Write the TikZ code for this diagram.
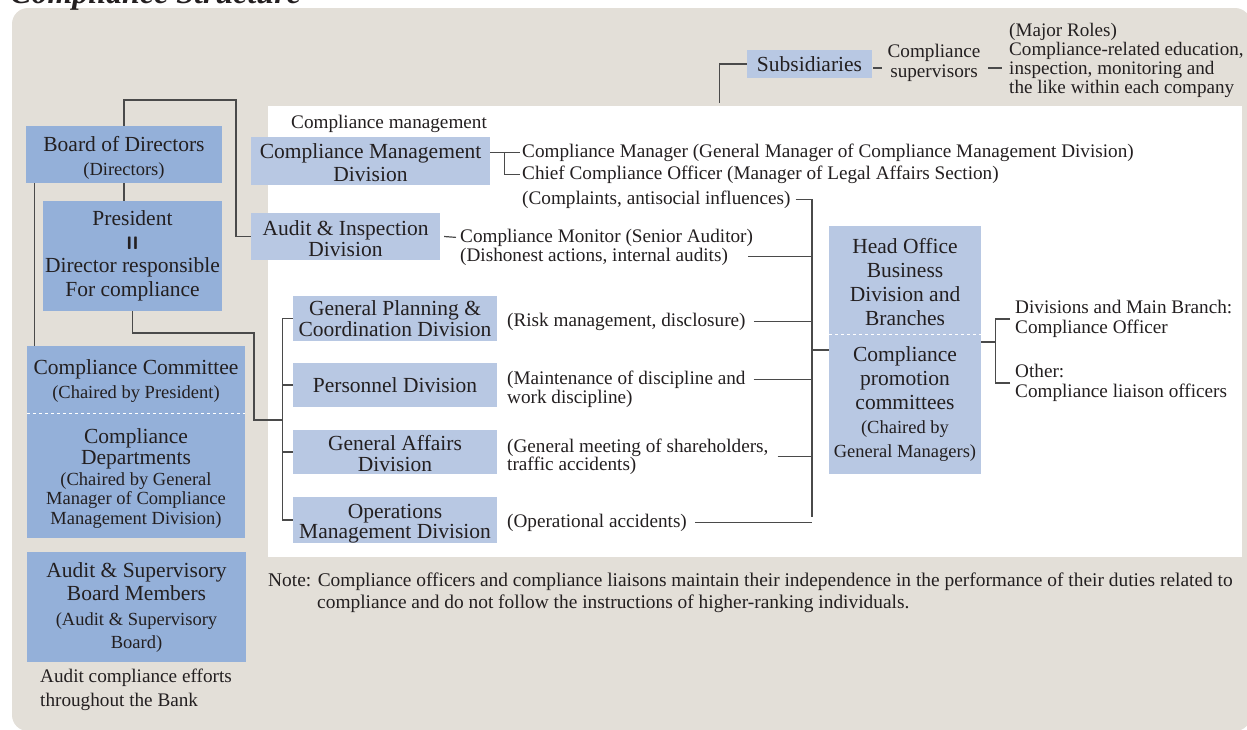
\documentclass[tikz,border=0pt]{standalone}
\usepackage{fontspec}
\setmainfont{Liberation Serif}
\usetikzlibrary{calc}

\definecolor{bgbeige}{HTML}{E3DFD8}
\definecolor{darkbox}{HTML}{94B0D9}
\definecolor{lightbox}{HTML}{B8C8E3}
\definecolor{ink}{HTML}{231F20}
\definecolor{linegray}{HTML}{4A4A4A}

\newcommand{\cfBig}{\fontsize{21.5}{23}\selectfont}
\newcommand{\cfSmall}{\fontsize{18.5}{20}\selectfont}
\newcommand{\cfNorm}{\fontsize{19.2}{20}\selectfont}
\newcommand{\cfStrut}[1]{\rule{0pt}{#1}}
\newcommand{\cfBars}{{\fontsize{18}{18}\sffamily\bfseries I\kern0.3pt I}}

\begin{document}
\begin{tikzpicture}[x=1pt, y=-1pt, text=ink,
    dbox/.style={fill=darkbox, inner sep=0pt, align=center, font=\cfBig},
    lbox/.style={fill=lightbox, inner sep=0pt, align=center, font=\cfBig},
    lbl/.style={anchor=base west, inner sep=0pt, font=\cfNorm},
    blk/.style={inner sep=0pt, align=left, font=\cfNorm},
    wire/.style={draw=linegray, line width=1.2pt},
    sep/.style={draw=white, line width=0.8pt, dash pattern=on 3pt off 3pt}]

    \useasboundingbox (0,0) rectangle (1247,729);

    \fill [bgbeige, rounded corners=16pt] (12,8) rectangle (1251,731);
    \fill [white] (268,106) rectangle (1242,557);

    \node [anchor=base west, inner sep=0pt, font=\fontsize{32}{32}\selectfont\bfseries\itshape] (title) at (10,3) {Compliance Structure};

    % left column
    \node [dbox, minimum width=196pt, minimum height=57pt] (board) at (124,154.5) {\cfStrut{22pt}Board of Directors\\[1pt]{\cfSmall (Directors)}};
    \node [dbox, minimum width=179pt, minimum height=110pt] (pres) at (132.5,256) {President\\[0.5pt]\cfBars\\[0.5pt]Director responsible\\[0.5pt]For compliance};
    \node [dbox, minimum width=218pt, minimum height=67pt] (comm) at (136,379.5) {\cfStrut{18pt}Compliance Committee\\[1pt]{\cfSmall (Chaired by President)}};
    \node [dbox, minimum width=218pt, minimum height=125pt] (dept) at (136,475.5) {\cfStrut{21pt}Compliance\\[-2pt]Departments\\[-2pt]{\cfSmall (Chaired by General}\\[-3.5pt]{\cfSmall Manager of Compliance}\\[-3pt]{\cfSmall Management Division)}};
    \draw [sep] (comm.south west) -- (comm.south east);
    \node [dbox, minimum width=219pt, minimum height=110pt] (audsup) at (136.5,607) {Audit \& Supervisory\\Board Members\\[2pt]{\cfSmall (Audit \& Supervisory}\\[0pt]{\cfSmall Board)}};
    \node [blk, anchor=north west, font=\fontsize{19.2}{23.5}\selectfont] (auditnote) at (40,669) {Audit compliance efforts\\throughout the Bank};

    % subsidiaries
    \node [lbox, minimum width=125pt, minimum height=28pt] (subs) at (809.5,64) {Subsidiaries};
    \node [inner sep=0pt, align=center, font=\fontsize{19.2}{20}\selectfont] (super) at (934,62.5) {Compliance\\supervisors};
    \node [blk, anchor=north west, font=\fontsize{19.1}{19}\selectfont] (roles) at (1009,23) {(Major Roles)\\Compliance-related education,\\inspection, monitoring and\\the like within each company};
    \draw [wire] (subs.west) -- ++(-27,0) -- ++(0,39);
    \draw [wire] ([xshift=1pt]subs.east |- 0,68) -- (882,68);
    \draw [wire] (988,68) -- (1002,68);

    % compliance management
    \node [lbl] (cmlabel) at (291,128) {Compliance management};
    \node [lbox, minimum width=239pt, minimum height=48pt] (cmd) at (370.5,161) {\cfStrut{19pt}Compliance Management\\Division};
    \node [lbl] (mgr) at (522,157) {Compliance Manager (General Manager of Compliance Management Division)};
    \node [lbl] (cco) at (522,179) {Chief Compliance Officer (Manager of Legal Affairs Section)};
    \node [lbl] (compl) at (522,204) {(Complaints, antisocial influences)};
    \draw [wire] (cmd.east |- mgr.west) -- ([xshift=-2pt]mgr.west);
    \draw [wire] ($(cmd.east |- mgr.west)+(14,0)$) |- ([xshift=-2pt]cco.west);

    \node [lbox, minimum width=189pt, minimum height=47pt] (aid) at (345.5,236.5) {\cfStrut{19pt}Audit \& Inspection\\[-2pt]Division};
    \node [lbl] (monitor) at (460,242) {Compliance Monitor (Senior Auditor)};
    \node [lbl] (dish) at (460,261) {(Dishonest actions, internal audits)};
    \draw [wire] ([xshift=4pt]aid.east) -- ([xshift=-4pt]monitor.west);
    \draw [wire] (board.north) |- (236,100) |- (aid.west);
    \draw [wire] (board.south) -- (board.south |- pres.north);
    \coordinate (bl) at ([xshift=9pt]board.south west);
    \draw [wire] (bl) -- (bl |- comm.north);

    % divisions
    \node [lbox, minimum width=204pt, minimum height=45pt] (gp) at (395,318.5) {General Planning \&\\[-2pt]Coordination Division};
    \node [lbox, minimum width=204pt, minimum height=44pt] (pers) at (395,385) {Personnel Division};
    \node [lbox, minimum width=204pt, minimum height=44pt] (ga) at (395,452) {\cfStrut{19pt}General Affairs\\[-2pt]Division};
    \node [lbox, minimum width=204pt, minimum height=44pt] (ops) at (395,520) {\cfStrut{21pt}Operations\\[-3pt]Management Division};
    \draw [wire] (gp.west) -- ++(-10,0) |- (ops.west);
    \draw [wire] (pers.west) -- ++(-10,0);
    \draw [wire] (ga.west) -- ++(-10,0);
    \draw [wire] (pres.south) |- (254,333) |- (283,420);

    \node [lbl] (risk) at (507,326) {(Risk management, disclosure)};
    \node [lbl] (maint) at (507,384) {(Maintenance of discipline and};
    \node [lbl] (maint2) at (507,403) {work discipline)};
    \node [lbl] (agm) at (507,452) {(General meeting of shareholders,};
    \node [lbl] (agm2) at (507,470) {traffic accidents)};
    \node [lbl] (opacc) at (507,527) {(Operational accidents)};

    % head office
    \node [lbox, minimum width=152pt, minimum height=108pt] (hoff) at (905,280) {\cfStrut{19pt}Head Office\\[1pt]Business\\[1pt]Division and\\[1pt]Branches};
    \node [lbox, minimum width=152pt, minimum height=140pt] (promo) at (905,404) {Compliance\\[1pt]promotion\\[1pt]committees\\[1pt]{\cfSmall (Chaired by}\\[1pt]{\cfSmall General Managers)}};
    \draw [sep] (hoff.south west) -- (hoff.south east);

    \coordinate (rbus) at (812,517);
    \draw [wire] ([xshift=5pt]compl.east) -| (rbus);
    \draw [wire] ([xshift=20pt]dish.east) -- (rbus |- dish.east);
    \draw [wire] ([xshift=8pt]risk.east) -- (rbus |- risk.east);
    \draw [wire] ([xshift=8pt]maint.east) -- (rbus |- maint.east);
    \draw [wire] ([xshift=9pt]agm.south east) -- (rbus |- agm.south east);
    \draw [wire] ([xshift=8pt]opacc.east) -- (rbus |- opacc.east);
    \coordinate (hmid) at ($(hoff.north west)!.5!(promo.south west)$);
    \draw [wire] (rbus |- hmid) -- (hmid);

    \node [blk, anchor=west] (divs) at (1015,319) {Divisions and Main Branch:\\Compliance Officer};
    \node [blk, anchor=west] (other) at (1015,383) {Other:\\Compliance liaison officers};
    \draw [wire] ($(hoff.east)!.5!(promo.east)$) -- ++(14,0) coordinate (hbr);
    \draw [wire] ([xshift=-5pt]divs.west) -| (hbr);
    \draw [wire] ([xshift=-5pt]other.west) -| (hbr);

    \node [lbl, font=\fontsize{19.4}{20}\selectfont] (note1) at (268,586) {Note: Compliance officers and compliance liaisons maintain their independence in the performance of their duties related to};
    \node [lbl, font=\fontsize{19.4}{20}\selectfont] (note2) at (317,608) {compliance and do not follow the instructions of higher-ranking individuals.};
\end{tikzpicture}
\end{document}
